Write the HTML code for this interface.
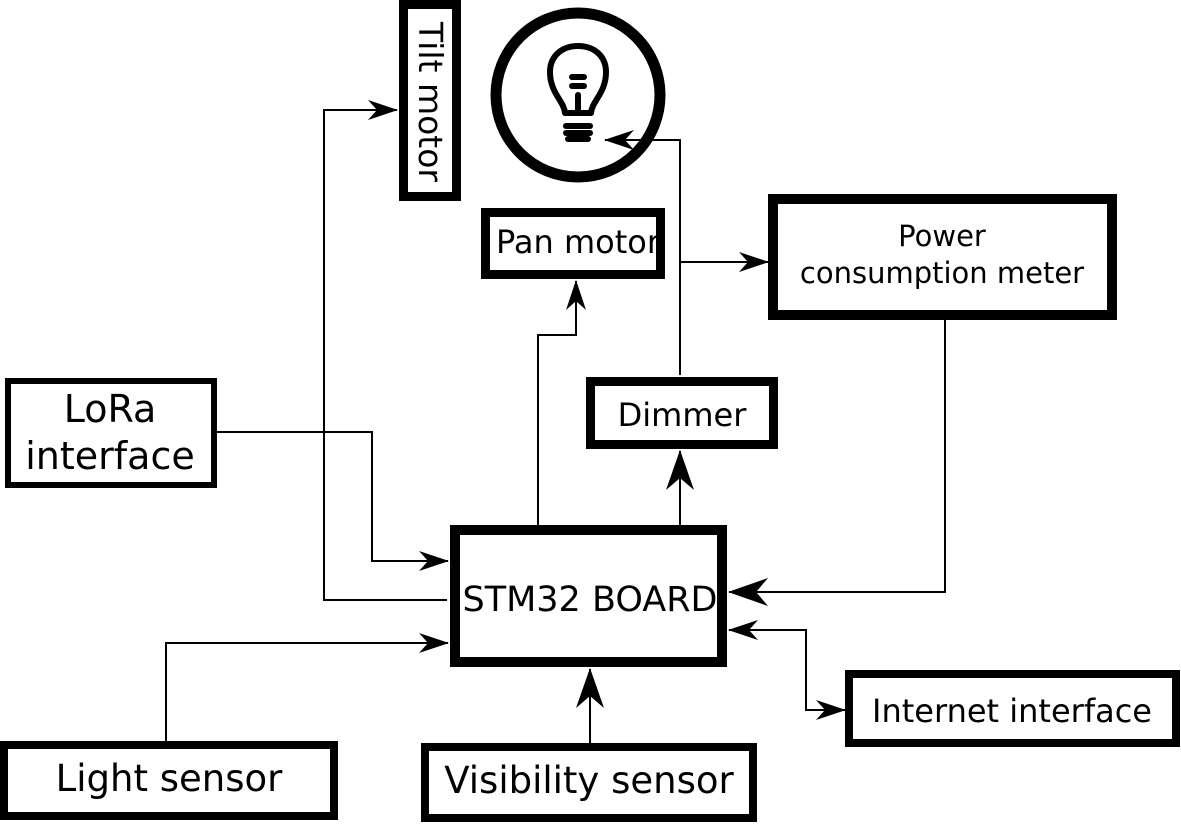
<!DOCTYPE html>
<html><head><style>html,body{margin:0;padding:0;background:#fff}svg{display:block}</style></head>
<body>
<svg width="1181" height="824" viewBox="0 0 1181 824" xmlns="http://www.w3.org/2000/svg" font-family="'DejaVu Sans','Liberation Sans',sans-serif">
<defs>
<marker id="a" viewBox="0 0 30 20" refX="29" refY="10" markerWidth="30" markerHeight="20" markerUnits="userSpaceOnUse" orient="auto">
<path d="M0,0 L30,10 L0,20 L9,10 Z" fill="#000"/></marker>
<marker id="b" viewBox="0 0 40 28" refX="39" refY="14" markerWidth="40" markerHeight="28" markerUnits="userSpaceOnUse" orient="auto">
<path d="M0,0 L40,14 L0,28 L12,14 Z" fill="#000"/></marker>
<marker id="s" viewBox="0 0 30 20" refX="1" refY="10" markerWidth="30" markerHeight="20" markerUnits="userSpaceOnUse" orient="auto">
<path d="M30,0 L0,10 L30,20 L21,10 Z" fill="#000"/></marker>
</defs>
<g fill="#fff" stroke="#000">
<rect x="403.5" y="4.5" width="53" height="192" stroke-width="9"/>
<circle cx="578" cy="95" r="82" stroke-width="11"/>
<rect x="485.5" y="212.5" width="175" height="62" stroke-width="9"/>
<rect x="773" y="199" width="339" height="116" stroke-width="10"/>
<rect x="8" y="381" width="206" height="104" stroke-width="6"/>
<rect x="590.5" y="381.5" width="183" height="63" stroke-width="9"/>
<rect x="455" y="530" width="267" height="132" stroke-width="10"/>
<rect x="849" y="674" width="327" height="69" stroke-width="8"/>
<rect x="4" y="745" width="330" height="71" stroke-width="8"/>
<rect x="425" y="747" width="328" height="71" stroke-width="8"/>
</g>
<g fill="none" stroke="#000" stroke-width="2">
<polyline points="447,600 324,600 324,110 397,110" marker-end="url(#a)"/>
<polyline points="217,432 372,432 372,561 448,561" marker-end="url(#a)"/>
<polyline points="166,741 166,643 448,643" marker-end="url(#a)"/>
<polyline points="538,525 538,335 576,335 576,281" marker-end="url(#a)"/>
<polyline points="680,525 680,451" marker-end="url(#b)"/>
<polyline points="680,375 680,140 605,140" marker-end="url(#a)"/>
<polyline points="680,262 768,262" marker-end="url(#a)"/>
<polyline points="945,320 945,592 729,592" marker-end="url(#b)"/>
<polyline points="729,630 806,630 806,710 845,710" marker-start="url(#s)" marker-end="url(#a)"/>
<polyline points="590,743 590,669" marker-end="url(#b)"/>
</g>
<g stroke="#000" fill="none" stroke-width="6" stroke-linecap="round">
<path d="M565,113 C564,101 550,93 550,72 C550,56 562,46 578,46 C594,46 606,56 606,72 C606,93 592,101 591,113 Z" stroke-linejoin="round"/>
<line x1="572" y1="77" x2="584" y2="77"/><line x1="572" y1="86" x2="584" y2="86"/>
<line x1="578" y1="95" x2="578" y2="111"/>
<line x1="566" y1="126" x2="590" y2="126"/><line x1="566" y1="133" x2="590" y2="133"/><line x1="568" y1="139" x2="588" y2="139"/>
</g>
<g fill="#000" text-anchor="middle">
<text x="578" y="253" font-size="32">Pan motor</text>
<text x="942" y="246" font-size="29">Power</text>
<text x="942" y="283" font-size="29">consumption meter</text>
<text x="110" y="422" font-size="38">LoRa</text>
<text x="110" y="469" font-size="38">interface</text>
<text x="682" y="426" font-size="32">Dimmer</text>
<text x="590" y="611" font-size="35">STM32 BOARD</text>
<text x="1012" y="722" font-size="32">Internet interface</text>
<text x="169" y="791" font-size="37">Light sensor</text>
<text x="589" y="793" font-size="37">Visibility sensor</text>
<text transform="translate(419,102) rotate(90)" font-size="33">Tilt motor</text>
</g>
</svg>
</body></html>
